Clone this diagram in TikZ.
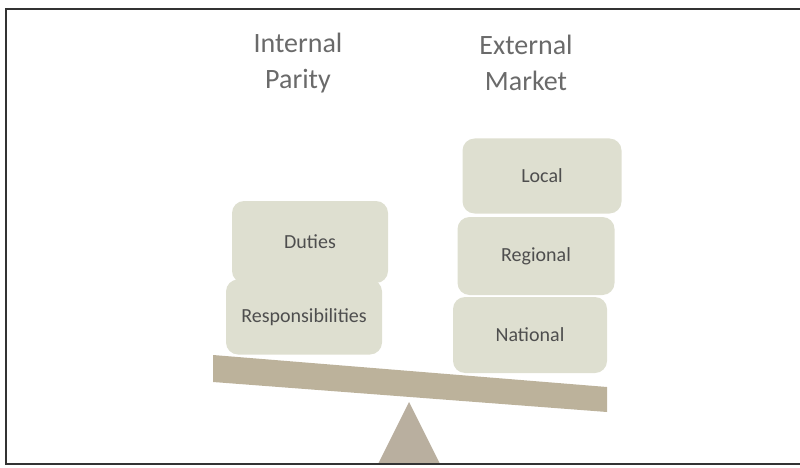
\documentclass[tikz,border=0pt]{standalone}
\usepackage{fontspec}
\setmainfont{Carlito}
\usepackage{tikz}

\definecolor{boxfill}{HTML}{DEDFD0}
\definecolor{boxtext}{HTML}{4E4E4E}
\definecolor{beamcol}{HTML}{BCB29B}
\definecolor{pivotcol}{HTML}{B9AF9F}
\definecolor{titlecol}{HTML}{6A6A6A}

\tikzset{
  block/.style={fill=boxfill, rounded corners=12pt, text=boxtext, font=\fontsize{20}{22}\selectfont,
    inner sep=0pt, align=center},
  heading/.style={text=titlecol, font=\fontsize{28}{36}\selectfont, align=center}
}

\begin{document}
\begin{tikzpicture}[x=1pt,y=-1pt]
			\useasboundingbox (0,0) rectangle (800,468);
			% headings
			\node[heading] (internal) at (298,63) {Internal\\Parity};
			\node[heading] (external) at (526,63) {External\\Market};
			% left pan
			\node[block, minimum width=156pt, minimum height=82pt] (duties) at (310,242) {Duties};
			\node[block, minimum width=156pt, minimum height=75pt] (resp) at (304,317) {Responsibilities};
			% right pan
			\node[block, minimum width=159pt, minimum height=75pt] (local) at (542,176) {Local};
			\node[block, minimum width=157pt, minimum height=78pt] (regional) at (536,256) {Regional};
			\node[block, minimum width=154pt, minimum height=76pt] (national) at (530,335) {National};
			% beam and pivot
			\fill[beamcol] (213,355) -- (607,387) -- (607,412) -- (213,382) -- cycle;
			\fill[pivotcol] (409,402) -- (440,464) -- (378,464) -- cycle;
			% frame
			\draw[black!80, line width=1.5pt] (800,9) -- (6,9) -- (6,464) -- (800,464);
		\end{tikzpicture}
\end{document}
